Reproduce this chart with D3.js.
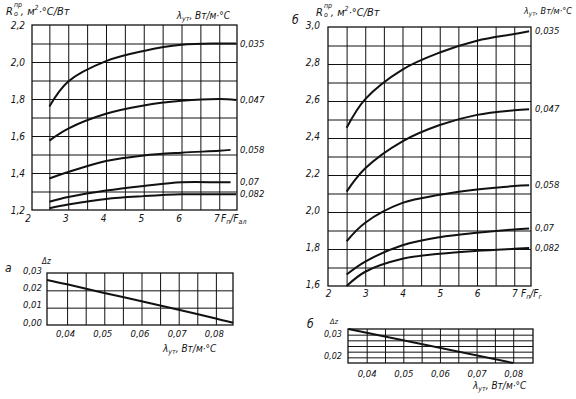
<!DOCTYPE html>
<html><head><meta charset="utf-8">
<script src="https://cdn.jsdelivr.net/npm/d3@7"></script>
<style>
html,body{margin:0;padding:0;background:#fff;}
svg text{font-family:"Liberation Sans Narrow","DejaVu Sans Condensed","Liberation Sans",sans-serif;font-style:italic;fill:#111;}
</style></head>
<body><svg id="c" width="576" height="399"></svg>
<script>
// ---- data ----
const seriesLabels = ["0,035", "0,047", "0,058", "0,07", "0,082"];
const fRatio = [2.5, 3, 4, 5, 6, 7, 7.4];
const fRatioA = [
  [2.5, 3, 4, 5, 6, 7, 7.45],
  [2.5, 3, 4, 5, 6, 7, 7.45],
  [2.5, 3, 4, 5, 6, 7, 7.3],
  [2.5, 3, 4, 5, 6, 7, 7.3],
  [2.5, 3, 4, 5, 6, 7, 7.45]
];
const rA035 = [1.76, 1.895, 2.005, 2.06, 2.093, 2.10, 2.10];
const rA047 = [1.575, 1.64, 1.72, 1.765, 1.79, 1.80, 1.795];
const rA058 = [1.37, 1.405, 1.465, 1.495, 1.51, 1.52, 1.525];
const rA070 = [1.245, 1.27, 1.305, 1.33, 1.35, 1.35, 1.35];
const rA082 = [1.21, 1.23, 1.26, 1.275, 1.285, 1.285, 1.285];
const rB035 = [2.455, 2.61, 2.77, 2.862, 2.926, 2.962, 2.977];
const rB047 = [2.11, 2.236, 2.382, 2.47, 2.525, 2.55, 2.556];
const rB058 = [1.842, 1.942, 2.049, 2.093, 2.122, 2.14, 2.144];
const rB070 = [1.662, 1.732, 1.82, 1.864, 1.888, 1.906, 1.911];
const rB082 = [1.60, 1.677, 1.747, 1.774, 1.79, 1.801, 1.805];
const lambdaA = [0.0346, 0.04, 0.05, 0.06, 0.07, 0.08, 0.0846];
const dzA = [0.026, 0.0235, 0.0185, 0.0137, 0.0088, 0.0038, 0.0013];
const lambdaB = [0.035, 0.08];
const dzB = [0.0325, 0.0175];
const xTicksTop = [2, 3, 4, 5, 6, 7];
const yTicksA = [1.2, 1.4, 1.6, 1.8, 2.0, 2.2];
const yTicksB = [1.6, 1.8, 2.0, 2.2, 2.4, 2.6, 2.8, 3.0];
const lamTicks = [0.04, 0.05, 0.06, 0.07, 0.08];
const dzTicksA = [0.00, 0.01, 0.02, 0.03];
const dzTicksB = [0.02, 0.03];

const svg = d3.select("#c");
const fmt = (d, p) => d.toFixed(p).replace(".", ",");
const INK = "#111";

function gridPanel(x, y, xg, yg) {
  const g = svg.append("g");
  const [x0, x1] = x.range(), [y0, y1] = y.range();
  g.append("g").attr("transform", `translate(0,${y0})`)
    .call(d3.axisBottom(x).tickValues(xg).tickSize(-(y0 - y1)).tickFormat(""))
    .call(s => { s.select(".domain").remove(); s.selectAll("line").attr("stroke", INK).attr("stroke-width", 1); });
  g.append("g").attr("transform", `translate(${x0},0)`)
    .call(d3.axisLeft(y).tickValues(yg).tickSize(-(x1 - x0)).tickFormat(""))
    .call(s => { s.select(".domain").remove(); s.selectAll("line").attr("stroke", INK).attr("stroke-width", 1); });
  g.append("rect").attr("x", x0).attr("y", y1).attr("width", x1 - x0).attr("height", y0 - y1)
    .attr("fill", "none").attr("stroke", INK).attr("stroke-width", 1.3);
  return g;
}
function labelsX(x, yPos, ticks, f, dx, size) {
  svg.append("g").attr("transform", `translate(0,${yPos})`)
    .call(d3.axisBottom(x).tickValues(ticks).tickSize(0).tickPadding(0).tickFormat(f))
    .call(s => { s.select(".domain").remove(); s.selectAll("text").attr("dx", dx).attr("dy", 0).attr("font-size", size); });
}
function labelsY(y, xPos, ticks, f, dy, size) {
  svg.append("g").attr("transform", `translate(${xPos},0)`)
    .call(d3.axisLeft(y).tickValues(ticks).tickSize(0).tickPadding(0).tickFormat(f))
    .call(s => { s.select(".domain").remove(); s.selectAll("text").attr("dy", dy).attr("font-size", size); });
}
function curve(x, y, xs, ys, w) {
  svg.append("path").datum(xs.map((d, i) => [d, ys[i]]))
    .attr("d", d3.line().x(d => x(d[0])).y(d => y(d[1])).curve(d3.curveCatmullRom.alpha(0.5)))
    .attr("fill", "none").attr("stroke", INK).attr("stroke-width", w);
}
function txt(xp, yp, s, size, anchor) {
  return svg.append("text").attr("x", xp).attr("y", yp).attr("font-size", size)
    .attr("text-anchor", anchor || "start").text(s);
}
function rTitle(xp, yp) {
  const t = svg.append("text").attr("x", xp).attr("y", yp).attr("font-size", 11);
  t.append("tspan").text("R");
  t.append("tspan").attr("font-size", 7).attr("dy", -8).attr("dx", 1).text("пр");
  t.append("tspan").attr("font-size", 7).attr("dy", 9).attr("dx", -8).text("о");
  t.append("tspan").attr("dy", -1).attr("dx", 3).text(", м");
  t.append("tspan").attr("font-size", 7).attr("dy", -5).text("2");
  t.append("tspan").attr("dy", 5).text("·°С/Вт");
}
function lamTitle(xp, yp, size, anchor) {
  const t = svg.append("text").attr("x", xp).attr("y", yp).attr("font-size", size).attr("text-anchor", anchor || "start");
  t.append("tspan").text("λ");
  t.append("tspan").attr("font-size", size * 0.7).attr("dy", 2).text("ут");
  t.append("tspan").attr("dy", -2).text(", Вт/м·°С");
}
function fTitle(xp, yp, sub) {
  const t = svg.append("text").attr("x", xp).attr("y", yp).attr("font-size", 10);
  t.append("tspan").text("F");
  t.append("tspan").attr("font-size", 7).attr("dy", 2).text("п");
  t.append("tspan").attr("dy", -2).text("/F");
  t.append("tspan").attr("font-size", 7).attr("dy", 2).text(sub);
}

// ---- Panel а (top) ----
const xA = d3.scaleLinear().domain([2.04, 7.47]).range([32, 237]);
const yA = d3.scaleLinear().domain([1.2, 2.2]).range([210, 25]);
gridPanel(xA, yA, d3.range(5, 15).map(d => d / 2), d3.range(13, 22).map(d => d / 10));
labelsX(xA, 222, xTicksTop, d => d, -3, 10);
labelsY(yA, 25, yTicksA, d => fmt(d, 1), "0.3em", 10);
const rA = [rA035, rA047, rA058, rA070, rA082];
rA.forEach((s, i) => {
  curve(xA, yA, fRatioA[i], s, 2);
  txt(240, yA(s[s.length - 1]) + 3, seriesLabels[i], 9.5);
});
rTitle(6, 15);
lamTitle(230, 19, 10, "end");
fTitle(221, 222, "ал");

// ---- Panel б (top) ----
const xB = d3.scaleLinear().domain([2, 7.45]).range([328, 531]);
const yB = d3.scaleLinear().domain([1.6, 3.0]).range([286, 27]);
gridPanel(xB, yB, d3.range(5, 15).map(d => d / 2), d3.range(17, 30).map(d => d / 10));
labelsX(xB, 297, xTicksTop, d => d, 0, 10);
labelsY(yB, 320, yTicksB, d => fmt(d, 1), "0.1em", 10);
const rB = [rB035, rB047, rB058, rB070, rB082];
rB.forEach((s, i) => {
  curve(xB, yB, fRatio, s, 2);
  txt(535, yB(s[s.length - 1]) + 3, seriesLabels[i], 9.5);
});
txt(292, 24, "б", 12);
rTitle(316, 16);
lamTitle(572, 14, 9, "end");
fTitle(521, 297, "г");

// ---- Panel а (bottom) ----
const xLa = d3.scaleLinear().domain([0.0346, 0.0846]).range([47, 233]);
const yLa = d3.scaleLinear().domain([0, 0.03]).range([325, 273]);
gridPanel(xLa, yLa, d3.range(8, 17).map(d => d / 200), [0.01, 0.02]);
labelsX(xLa, 337, lamTicks, d => fmt(d, 2), -2, 9.5);
labelsY(yLa, 42, dzTicksA, d => fmt(d, 2), "0", 9.5);
curve(xLa, yLa, lambdaA, dzA, 2);
txt(5, 272, "а", 12);
txt(42, 264, "Δz", 8);
lamTitle(163, 352, 10);

// ---- Panel б (bottom) ----
const xLb = d3.scaleLinear().domain([0.0349, 0.0854]).range([348, 533]);
const yLb = d3.scaleLinear().domain([0.0175, 0.0325]).range([363, 329]);
gridPanel(xLb, yLb, d3.range(8, 17).map(d => d / 200), d3.range(8, 13).map(d => d / 400));
labelsX(xLb, 377, lamTicks, d => fmt(d, 2), 0, 9.5);
labelsY(yLb, 342, dzTicksB, d => fmt(d, 2), "0.15em", 9);
curve(xLb, yLb, lambdaB, dzB, 2);
txt(307, 328, "б", 12);
txt(330, 324, "Δz", 7.5);
lamTitle(473, 389, 10);
</script></body></html>
